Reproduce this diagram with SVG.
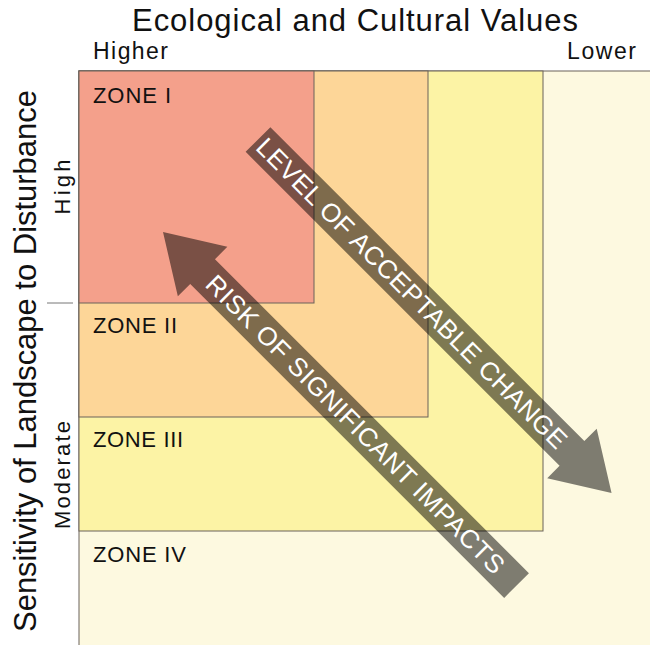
<svg xmlns="http://www.w3.org/2000/svg" width="650" height="645" viewBox="0 0 650 645">
<style>
.zone{stroke:#6b625a;stroke-width:1}
.lbl{font-family:"Liberation Sans",Arial,sans-serif;fill:#111}
.ztxt{font-family:"Liberation Sans",Arial,sans-serif;font-size:22px;fill:#111}
.arrow{fill:#000;fill-opacity:0.5}
.atxt{font-family:"Liberation Sans",Arial,sans-serif;font-size:26px;fill:#fff}
</style>
<rect width="650" height="645" fill="#fff"/>
<g id="zone4"><rect class="zone" x="79" y="71" width="600" height="600" fill="#fdf9e0"/><text class="ztxt" x="93" y="562" textLength="93">ZONE IV</text></g>
<g id="zone3"><rect class="zone" x="79" y="71" width="464" height="460" fill="#fcf3a5"/><text class="ztxt" x="93" y="447" textLength="90">ZONE III</text></g>
<g id="zone2"><rect class="zone" x="79" y="71" width="349" height="346" fill="#fdd698"/><text class="ztxt" x="93" y="333" textLength="84">ZONE II</text></g>
<g id="zone1"><rect class="zone" x="79" y="71" width="235" height="232" fill="#f4a08b"/><text class="ztxt" x="93" y="103" textLength="78">ZONE I</text></g>
<g id="axes">
<text class="lbl" x="355" y="31" font-size="31" text-anchor="middle" textLength="446">Ecological and Cultural Values</text>
<text class="lbl" x="93" y="59" font-size="23" textLength="75">Higher</text>
<text class="lbl" x="567" y="59" font-size="23" textLength="69">Lower</text>
<text class="lbl" transform="translate(36,361) rotate(-90)" font-size="31" text-anchor="middle" textLength="542">Sensitivity of Landscape to Disturbance</text>
<text class="lbl" transform="translate(70,187) rotate(-90)" font-size="22" text-anchor="middle" textLength="55">High</text>
<text class="lbl" transform="translate(70,475) rotate(-90)" font-size="22" text-anchor="middle" textLength="108">Moderate</text>
<line x1="47" y1="303" x2="73" y2="303" stroke="#777" stroke-width="1"/>
</g>
<g id="connectors">
<g id="arrow-change" transform="translate(258,139.5) rotate(45)">
<path class="arrow" d="M0,-17.5 L444,-17.5 L444,-35 L500,0 L444,35 L444,17.5 L0,17.5 Z"/>
<text class="atxt" x="4" y="9" textLength="427">LEVEL OF ACCEPTABLE CHANGE</text>
</g>
<g id="arrow-risk" transform="translate(163,232) rotate(45)">
<path class="arrow" d="M0,0 L56,-35 L56,-17.5 L500,-17.5 L500,17.5 L56,17.5 L56,35 Z"/>
<text class="atxt" x="67" y="9" textLength="410">RISK OF SIGNIFICANT IMPACTS</text>
</g>
</g>
</svg>
